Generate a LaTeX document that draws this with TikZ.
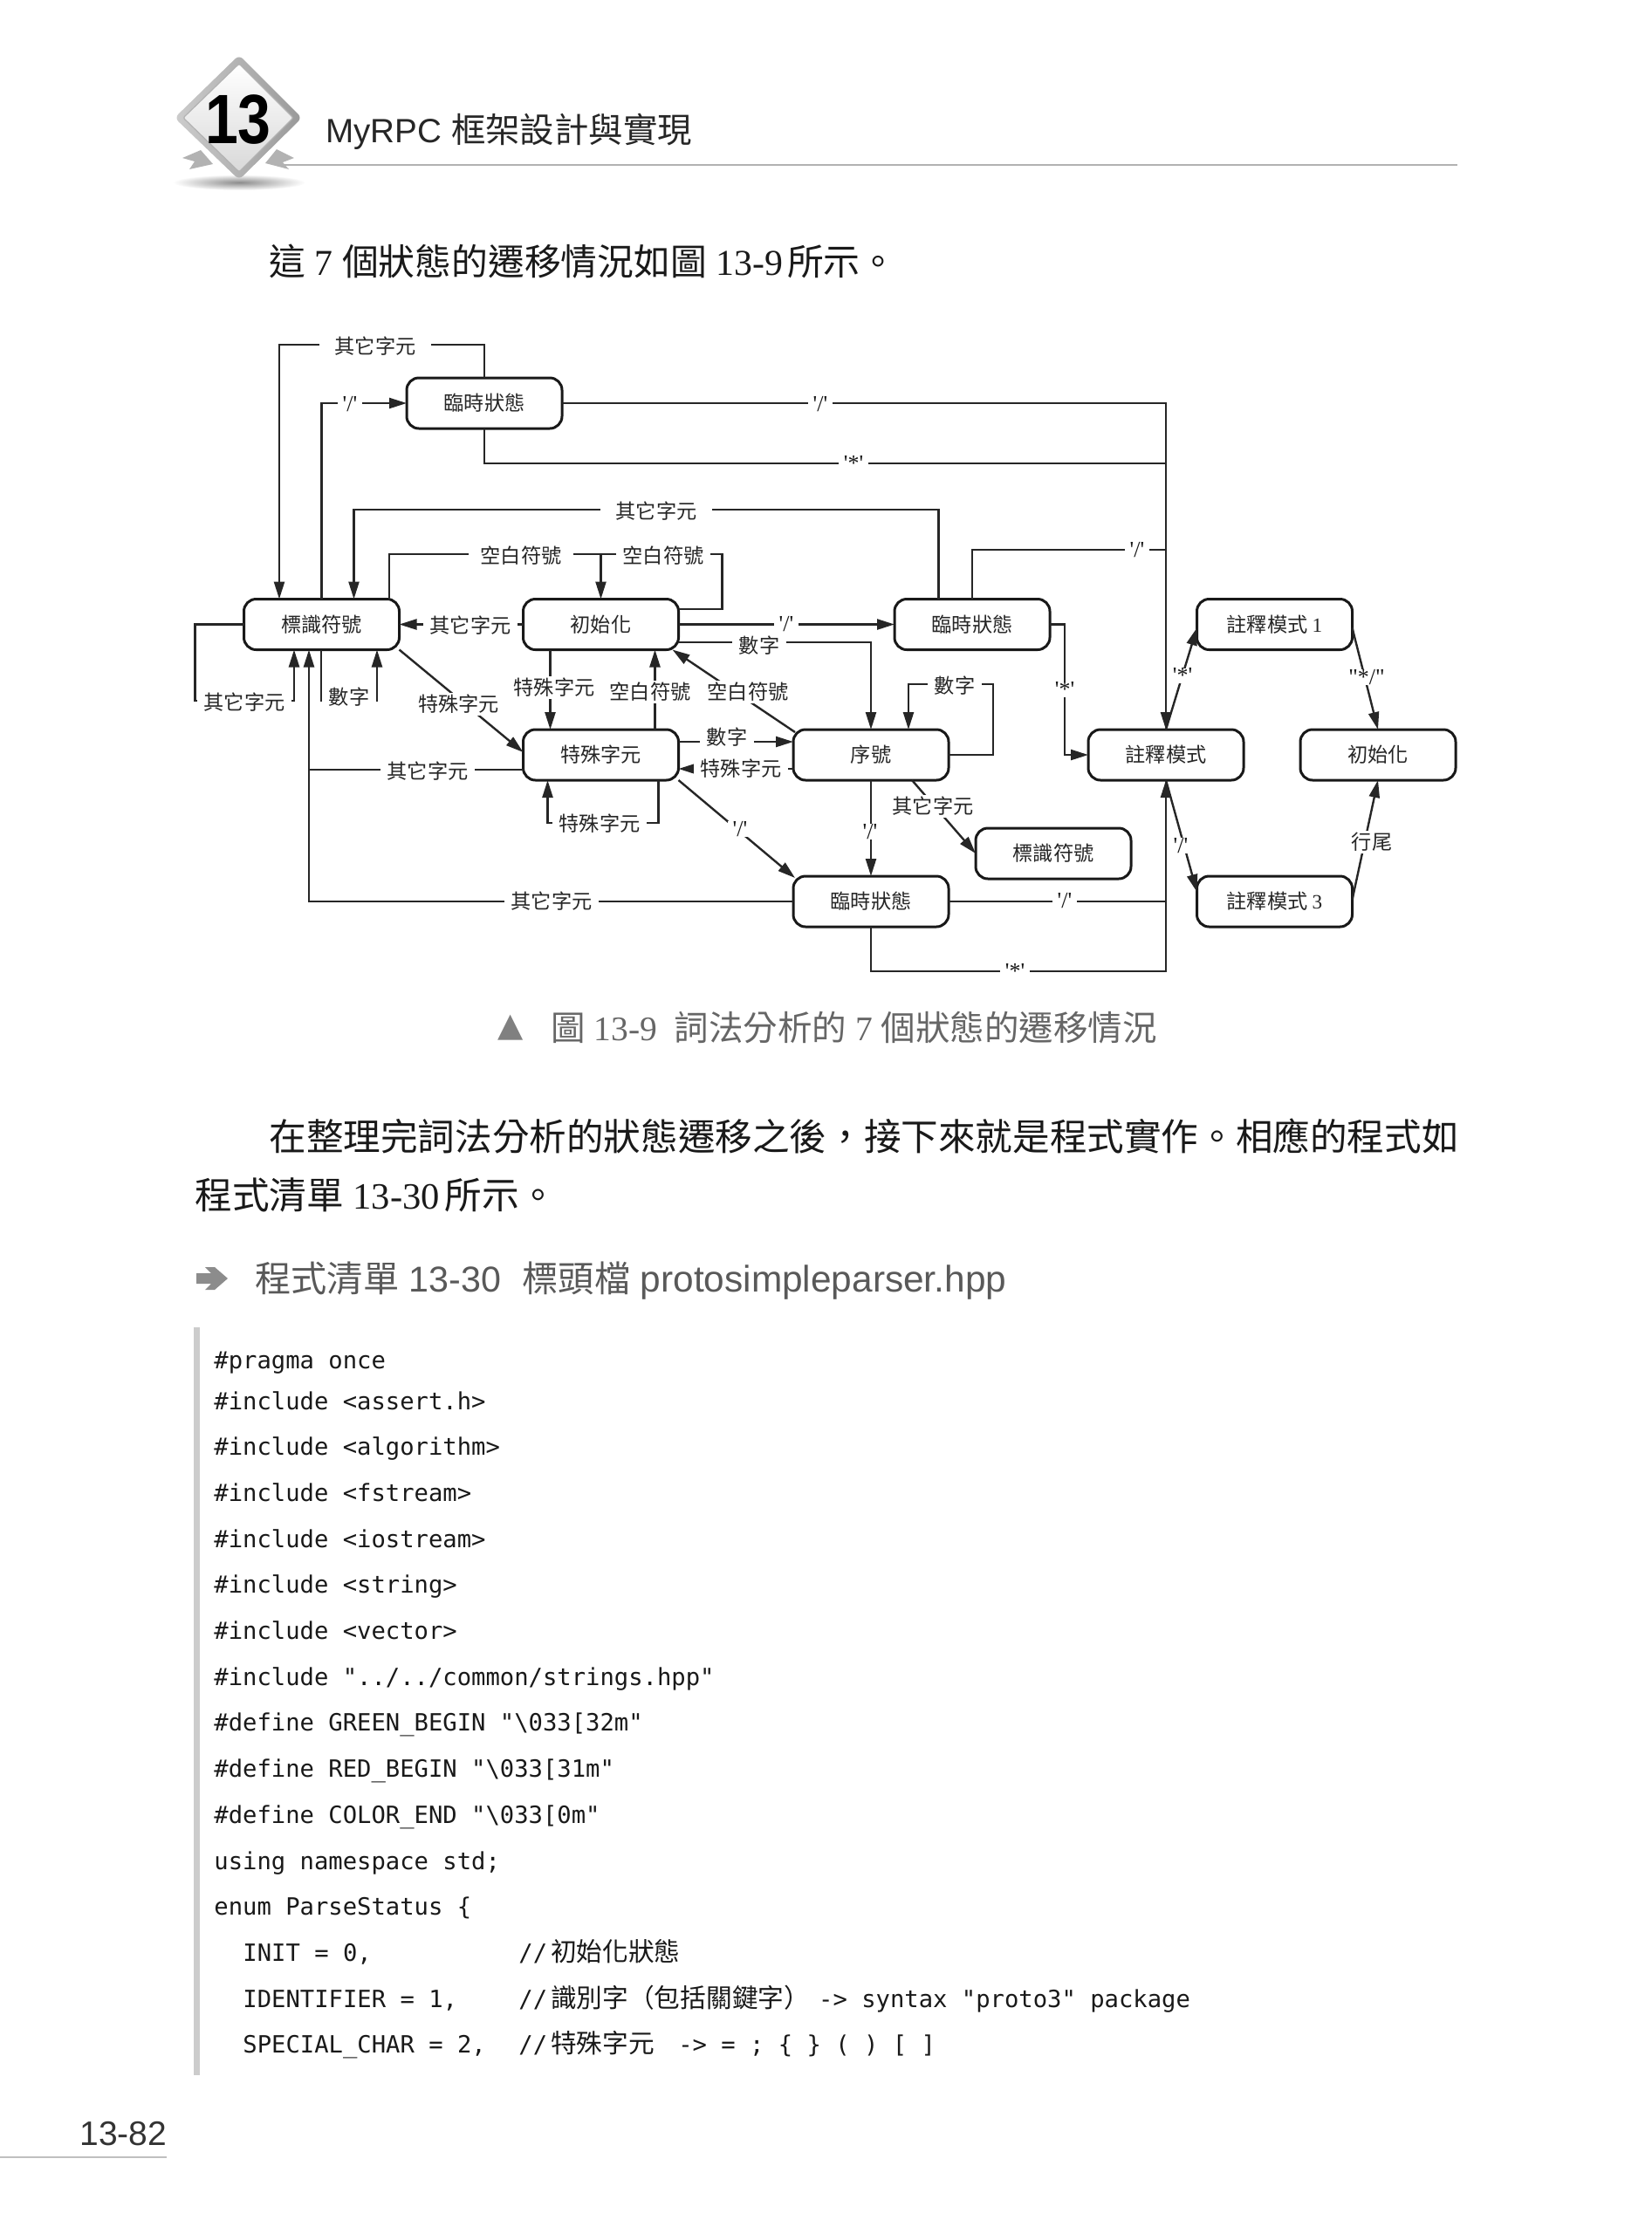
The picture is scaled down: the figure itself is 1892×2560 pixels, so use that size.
\documentclass[tikz,border=0pt]{standalone}
\usepackage{fontspec}
\usetikzlibrary{arrows.meta,shapes.geometric}
\setmainfont{Liberation Serif}
\setsansfont{Liberation Sans}
\newfontfamily\cjk{Noto Sans CJK TC}
\newfontfamily\lat{Liberation Serif}
\newfontfamily\codef{DejaVu Sans Mono}
\newfontfamily\symf{DejaVu Sans}
\newcommand\zh[1]{{\cjk #1}}
\newcommand\lb{\fontsize{11.6}{13}\selectfont}
\newcommand\codeline[3]{\node[codetext] (#1) at (#2) {#3};}
\newcommand\cmt[1]{{\cjk\fontsize{14.85}{16}\selectfont #1}}
\tikzset{
  box/.style={draw=black!90,line width=1.5pt,rounded corners=7pt,minimum width=89pt,minimum height=29pt,inner sep=0pt,outer sep=0pt,font=\cjk\lb,text=black!85},
  conn/.style={line width=1.2pt,draw=black!85},
  arr/.style={conn,-{Triangle[length=10pt,width=6pt]}},
  lab/.style={fill=white,inner xsep=4pt,inner ysep=1pt,font=\cjk\lb,text=black!85},
  sym/.style={fill=white,inner xsep=3pt,inner ysep=0pt,font=\lat\fontsize{13}{14}\selectfont,text=black!90},
  bodytext/.style={anchor=base west,inner sep=0pt,font=\fontsize{21.3}{24}\selectfont,text=black!90},
  codetext/.style={anchor=base west,inner sep=0pt,font=\codef\fontsize{13.6}{16}\selectfont,text=black!90},
}
\begin{document}
\begin{tikzpicture}[x=0.5pt,y=-0.5pt]
\useasboundingbox (0,0) rectangle (1892,2560);
% badge
\shade[shading=radial,inner color=black!45,outer color=white] (274,209) ellipse [x radius=76,y radius=9];
\fill[black!30] (209,181) -- (230,172) -- (244,188) -- (217,194) -- (223,185) -- cycle;
\fill[black!30] (337,181) -- (317,171) -- (304,187) -- (331,194) -- (324,186) -- cycle;
\shade[left color=black!20,right color=black!40,rounded corners=3pt] (274,63) -- (346,135) -- (274,206) -- (200,135) -- cycle;
\shade[top color=white,bottom color=black!15,draw=black!30,line width=0.6pt,rounded corners=1pt] (274,73) -- (336,135) -- (274,197) -- (210,135) -- cycle;
\node[inner sep=0pt,font=\sffamily\bfseries\fontsize{40}{40}\selectfont] (chapno) at (273,137) {\scalebox{0.85}[1]{13}};
\node[anchor=base west,inner sep=0pt,font=\sffamily\fontsize{19.3}{22}\selectfont,text=black!85] (title) at (373,163) {MyRPC {\cjk\fontsize{19.7}{22}\selectfont 框架設計與實現}};
\draw[black!30,line width=0.7pt] (322,189) -- (1670,189);
% body text
\node[bodytext,font=\fontsize{20.9}{24}\selectfont] (t1) at (308,315) {\zh{這} 7 \zh{個狀態的遷移情況如圖} 13-9\hspace{2.5pt}\zh{所示。}};
% state boxes
\node[box] (A) at (555,462) {臨時狀態};
\node[box] (B) at (368.5,715.5) {標識符號};
\node[box] (C) at (688.5,715.5) {初始化};
\node[box] (D) at (1114,715.5) {臨時狀態};
\node[box] (E) at (688.5,865) {特殊字元};
\node[box] (F) at (998,865) {序號};
\node[box] (G) at (998,1033) {臨時狀態};
\node[box] (H) at (1207,978) {標識符號};
\node[box] (I) at (1336,865) {註釋模式};
\node[box] (J) at (1460.5,715.5) {註釋模式 {\lat 1}};
\node[box] (K) at (1579,865) {初始化};
\node[box] (L) at (1460.5,1033) {註釋模式 {\lat 3}};
% route bends
\coordinate (k1) at (320,395);
\coordinate (k4) at (1336,531);
\coordinate (k6) at (405.5,584);
\coordinate (k7) at (1336,630);
\coordinate (k8) at (446,635);
\coordinate (k9) at (827.5,635);
\coordinate (k10) at (778,698);
\coordinate (k11) at (778,736);
\coordinate (k15a) at (223.5,803);
\coordinate (k15b) at (337,803);
\coordinate (k16a) at (368,803);
\coordinate (k16b) at (432,803);
\coordinate (k18) at (354,882);
\coordinate (k20) at (778,850);
\coordinate (k21) at (778,881);
\coordinate (k22a) at (754.6,943);
\coordinate (k22b) at (627.5,943);
\coordinate (k25a) at (1138,784);
\coordinate (k25b) at (1041,784);
\coordinate (k26) at (1220,865);
\coordinate (k28) at (1336,1113);
% connectors
\draw[arr] (A.north) |- (k1) -- (k1 |- B.north);
\draw[arr] (B.north) |- (A.west);
\draw[arr] (A.east) -| (I.north);
\draw[conn] (A.south) |- (k4);
\draw[arr] ([xshift=-19.25pt]D.north) |- (k6) -- (k6 |- B.north);
\draw[conn] (D.north) |- (k7);
\draw[arr] (k8 |- B.north) -- (k8) -| (C.north);
\draw[conn] (C.east |- k10) -| (k9) -- (C.north |- k9);
\draw[arr] (C.west) -- (B.east);
\draw[arr] (C.east) -- (D.west);
\draw[arr] (C.east |- k11) -| (F.north);
\draw[arr] ([xshift=-29pt]C.south) -- ([xshift=-29pt]E.north);
\draw[arr] ([xshift=31pt]E.north) -- ([xshift=31pt]C.south);
\draw[arr] ([xshift=1pt,yshift=-1.5pt]F.north west) -- ([xshift=-3.5pt]C.south east);
\draw[arr] (B.west) -| (k15a) -- (k15b) -- (k15b |- B.south);
\draw[arr] (k16a |- B.south) -- (k16a) -- (k16b) -- (k16b |- B.south);
\draw[arr] (B.south east) -- ([yshift=1.5pt]E.west);
\draw[conn] (E.west |- k18) -- (k18);
\draw[arr] (G.west) -| (k18 |- B.south);
\draw[arr] (E.east |- k20) -- (F.west |- k20);
\draw[arr] (F.west |- k21) -- (E.east |- k21);
\draw[arr] (k22a |- E.south) -- (k22a) -- (k22b) -- (k22b |- E.south);
\draw[arr] (E.south east) -- ([xshift=1pt,yshift=-1pt]G.north west);
\draw[arr] (F.south) -- (G.north);
\draw[arr] ([xshift=23.5pt]F.south) -- (H.west);
\draw[arr] (F.east) -| (k25a) -- (k25b) -- (k25b |- F.north);
\draw[arr] (D.east) -| (k26) -- (I.west);
\draw[conn] (G.east) -- (G.east -| I.south);
\draw[arr] (G.south) |- (k28) -- (I.south);
\draw[arr] (I.north) -- ([yshift=-2pt]J.west);
\draw[arr] ([yshift=-2pt]J.east) -- (K.north);
\draw[arr] (I.south) -- ([yshift=5.5pt]L.west);
\draw[arr] ([yshift=1pt]L.east) -- (K.south);
% labels
\node[lab,inner xsep=9pt] (l1) at (430,397) {其它字元};
\node[sym] (l2) at (401,463) {'/'};
\node[sym] (l3) at (940,463) {'/'};
\node[sym] (l4) at (978,531) {'*'};
\node[lab,inner xsep=9pt] (l5) at (752,586) {其它字元};
\node[sym] (l6) at (1303,630) {'/'};
\node[lab,inner xsep=7pt] (l7) at (597,637) {空白符號};
\node[lab] (l8) at (760,637) {空白符號};
\node[lab] (l9) at (539,717) {其它字元};
\node[sym] (l10) at (901,715) {'/'};
\node[lab] (l11) at (870,740) {數字};
\node[lab] (l12) at (635,788) {特殊字元};
\node[lab] (l13) at (745,793) {空白符號};
\node[lab] (l14) at (857,793) {空白符號};
\node[lab] (l15) at (280,805) {其它字元};
\node[lab] (l16) at (400,799) {數字};
\node[lab] (l17) at (525.5,807) {特殊字元};
\node[lab] (l18) at (490,884) {其它字元};
\node[lab] (l19) at (632,1033) {其它字元};
\node[lab] (l20) at (833,845) {數字};
\node[lab] (l21) at (849,881) {特殊字元};
\node[lab] (l22) at (687,944) {特殊字元};
\node[sym] (l23) at (848,950) {'/'};
\node[sym] (l24) at (997,953) {'/'};
\node[lab] (l25) at (1069,924) {其它字元};
\node[lab] (l26) at (1094,786) {數字};
\node[sym] (l27) at (1220,790) {'*'};
\node[sym] (l28) at (1220,1032) {'/'};
\node[sym] (l29) at (1163,1113) {'*'};
\node[sym] (l30) at (1355,774) {'*'};
\node[sym] (l31) at (1566,776) {"*/"};
\node[sym] (l32) at (1353,969) {'/'};
\node[lab] (l33) at (1572,965) {行尾};
% caption
\node[inner sep=0pt,font=\symf\fontsize{19}{20}\selectfont,text=black!50] (tri) at (585,1178) {▲};
\node[bodytext,text=black!60,font=\fontsize{19.75}{22}\selectfont] (cap) at (631,1192) {\zh{圖} 13-9\hspace{0.5em}\zh{詞法分析的} 7 \zh{個狀態的遷移情況}};
\node[bodytext] (p1) at (308,1318) {\zh{在整理完詞法分析的狀態遷移之後，接下來就是程式實作。相應的程式如}};
\node[bodytext] (p2) at (223,1385) {\zh{程式清單} 13-30\hspace{3pt}\zh{所示。}};
\fill[black!45] (225,1459) -- (242,1459) -- (235,1452) -- (246,1452) -- (261,1465) -- (246,1478) -- (235,1478) -- (242,1471) -- (225,1471) -- cycle;
\node[bodytext,font=\sffamily\fontsize{20.6}{24}\selectfont,text=black!65] (head) at (292,1480) {\zh{程式清單} 13-30\hspace{0.6em}\zh{標頭檔} {\fontsize{21.2}{24}\selectfont protosimpleparser.hpp}};
% code
\fill[black!20] (222,1521) rectangle (229,2378);
\codeline{c1}{245,1568}{\#pragma once}
\codeline{c2}{245,1615}{\#include <assert.h>}
\codeline{c3}{245,1667.7}{\#include <algorithm>}
\codeline{c4}{245,1720.4}{\#include <fstream>}
\codeline{c5}{245,1773.1}{\#include <iostream>}
\codeline{c6}{245,1825.8}{\#include <string>}
\codeline{c7}{245,1878.5}{\#include <vector>}
\codeline{c8}{245,1931.2}{\#include "../../common/strings.hpp"}
\codeline{c9}{245,1983.9}{\#define GREEN\_BEGIN "\textbackslash033[32m"}
\codeline{c10}{245,2036.6}{\#define RED\_BEGIN "\textbackslash033[31m"}
\codeline{c11}{245,2089.3}{\#define COLOR\_END "\textbackslash033[0m"}
\codeline{c12}{245,2142}{using namespace std;}
\codeline{c13}{245,2194.7}{enum ParseStatus \{}
\codeline{c14}{278,2247.4}{INIT = 0,}
\codeline{c15}{278,2300.1}{IDENTIFIER = 1,}
\codeline{c16}{278,2352.8}{SPECIAL\_CHAR = 2,}
\codeline{c17}{594,2247.4}{//\hspace{2pt}\cmt{初始化狀態}}
\codeline{c18}{594,2300.1}{//\hspace{2pt}\cmt{識別字（包括關鍵字）}\hspace{5pt}-> syntax "proto3" package}
\codeline{c19}{594,2352.8}{//\hspace{2pt}\cmt{特殊字元} \hspace{5.5pt}-> = ; \{ \} ( ) [ ]}
% footer
\node[anchor=base west,inner sep=0pt,font=\sffamily\fontsize{19.5}{22}\selectfont,text=black!80] (pg) at (91,2458) {13-82};
\draw[black!25,line width=1pt] (0,2472) -- (191,2472);
\end{tikzpicture}
\end{document}
